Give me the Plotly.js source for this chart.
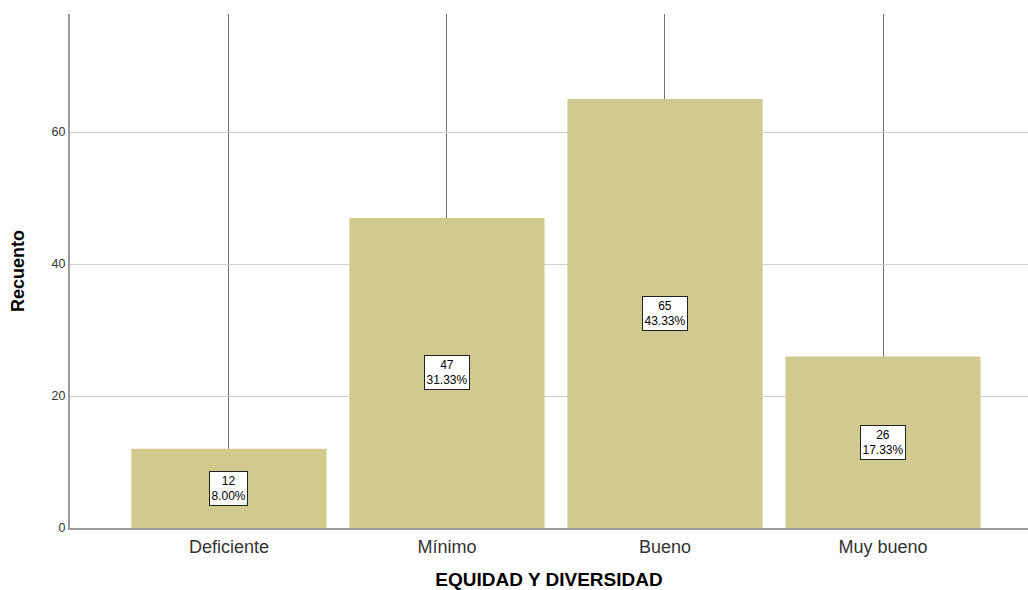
<!DOCTYPE html>
<html>
<head>
<meta charset="utf-8">
<script src="https://cdn.plot.ly/plotly-3.0.1.min.js"></script>
<style>html,body{margin:0;padding:0;background:#fff;}#chart{width:1028px;height:590px;}</style>
</head>
<body>
<div id="chart"></div>
<script>
const categories = ["Deficiente", "Mínimo", "Bueno", "Muy bueno"];
const counts = [12, 47, 65, 26];
const percents = ["8.00%", "31.33%", "43.33%", "17.33%"];
const yTicks = [0, 20, 40, 60];

const trace = {
  type: "bar",
  x: categories,
  y: counts,
  width: 0.895,
  marker: {color: "#d0ca8e", line: {width: 0}},
  hoverinfo: "none"
};

const annotations = categories.map((c, i) => ({
  x: c, y: counts[i] / 2, xref: "x", yref: "y",
  text: counts[i] + "<br>" + percents[i],
  showarrow: false,
  font: {family: "Arial, Liberation Sans, sans-serif", size: 12, color: "#000"},
  bgcolor: "#ffffff", bordercolor: "#222", borderwidth: 1, borderpad: 1.5
}));

const layout = {
  width: 1028, height: 590,
  margin: {l: 70, r: 0, t: 14, b: 62},
  paper_bgcolor: "#fff", plot_bgcolor: "#fff",
  showlegend: false,
  font: {family: "Arial, Liberation Sans, sans-serif", color: "#222"},
  xaxis: {
    type: "category",
    range: [-0.729, 3.665],
    showgrid: true, gridcolor: "#707070", gridwidth: 1,
    showline: true, linecolor: "#9a9a9a", linewidth: 1.5,
    ticks: "outside", ticklen: 2, tickcolor: "rgba(0,0,0,0)",
    tickfont: {size: 18, color: "#333"},
    title: {text: "EQUIDAD Y DIVERSIDAD", font: {size: 19, color: "#000", weight: "bold"}, standoff: 18},
    fixedrange: true
  },
  yaxis: {
    range: [0, 77.9],
    tickvals: yTicks,
    showgrid: true, gridcolor: "#cfcfcf", gridwidth: 1,
    showline: true, linecolor: "#9a9a9a", linewidth: 2,
    zeroline: false,
    ticks: "", ticklen: 0,
    tickfont: {size: 12.5, color: "#333"},
    title: {text: "Recuento", font: {size: 18, color: "#000", weight: "bold"}, standoff: 22},
    fixedrange: true
  },
  annotations: annotations
};

Plotly.newPlot("chart", [trace], layout, {displayModeBar: false, staticPlot: true});
</script>
</body>
</html>
